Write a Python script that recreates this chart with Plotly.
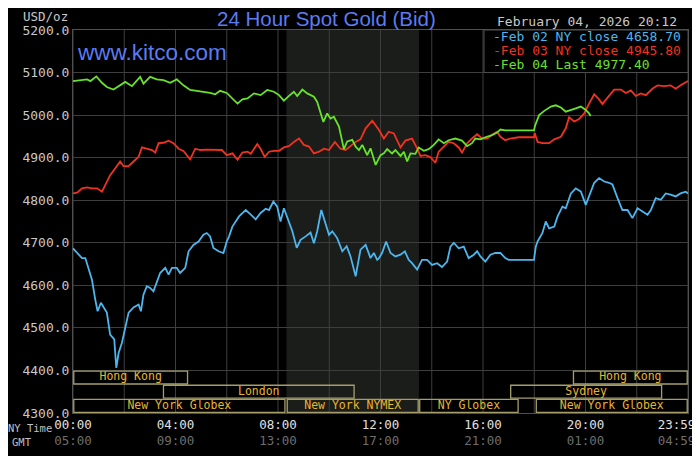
import plotly.graph_objects as go

# hours after midnight NY time, spot bid in USD/oz
feb02_hours = [0.00, 0.16, 0.35, 0.48, 0.61, 0.74, 0.87, 0.96, 1.09, 1.19, 1.32, 1.45, 1.61, 1.69,
               1.78, 1.91, 2.04, 2.17, 2.36, 2.56, 2.65, 2.75, 2.88, 3.01, 3.14, 3.27, 3.40, 3.60,
               3.73, 3.86, 4.05, 4.18, 4.38, 4.51, 4.70, 4.90, 5.09, 5.22, 5.35, 5.48, 5.68, 5.87,
               6.00, 6.09, 6.22, 6.48, 6.74, 6.94, 7.13, 7.32, 7.52, 7.65, 7.82, 7.97, 8.10, 8.23,
               8.43, 8.56, 8.73, 8.88, 9.08, 9.27, 9.40, 9.53, 9.69, 9.86, 9.99, 10.12, 10.31,
               10.51, 10.68, 10.83, 11.03, 11.22, 11.42, 11.61, 11.74, 11.87, 11.94, 12.06, 12.22,
               12.39, 12.58, 12.78, 12.95, 13.10, 13.23, 13.43, 13.62, 13.82, 14.01, 14.21, 14.40,
               14.60, 14.73, 14.86, 15.05, 15.25, 15.44, 15.64, 15.77, 15.90, 16.09, 16.29, 16.48,
               16.68, 16.87, 17.00, 17.99, 18.06, 18.13, 18.32, 18.45, 18.58, 18.78, 18.91, 19.10,
               19.23, 19.43, 19.62, 19.82, 20.01, 20.14, 20.34, 20.53, 20.73, 20.92, 21.05, 21.25,
               21.44, 21.64, 21.83, 22.03, 22.22, 22.42, 22.55, 22.74, 22.94, 23.13, 23.32, 23.52,
               23.71, 23.91, 24.00]
feb02_price = [4687, 4676, 4664, 4664, 4637, 4613, 4566, 4539, 4559, 4548, 4536, 4484, 4473, 4406,
               4441, 4465, 4504, 4536, 4548, 4555, 4539, 4578, 4598, 4594, 4586, 4609, 4629, 4641,
               4625, 4641, 4641, 4629, 4641, 4680, 4695, 4703, 4719, 4723, 4715, 4688, 4680, 4676,
               4703, 4715, 4738, 4762, 4777, 4766, 4755, 4770, 4780, 4777, 4797, 4785, 4750, 4781,
               4746, 4727, 4688, 4707, 4715, 4724, 4699, 4727, 4777, 4742, 4719, 4727, 4711,
               4680, 4692, 4668, 4621, 4684, 4695, 4664, 4676, 4660, 4664, 4676, 4703,
               4676, 4668, 4672, 4680, 4660, 4652, 4637, 4660, 4660, 4648, 4652, 4643,
               4656, 4691, 4700, 4687, 4691, 4664, 4672, 4680, 4668, 4656, 4672, 4676,
               4676, 4664, 4660, 4660, 4691, 4703, 4723, 4750, 4734, 4738, 4762, 4785,
               4781, 4816, 4828, 4820, 4789, 4809, 4841, 4852, 4844, 4841, 4837, 4805,
               4777, 4777, 4758, 4781, 4773, 4766, 4777, 4805, 4801, 4816, 4813, 4809,
               4816, 4820, 4816]

feb03_hours = [0.00, 0.16, 0.35, 0.55, 0.74, 0.94, 1.13, 1.26, 1.45, 1.65, 1.84, 1.97, 2.17, 2.36,
               2.56, 2.69, 2.88, 3.08, 3.21, 3.34, 3.53, 3.73, 3.92, 4.12, 4.31, 4.57, 4.77, 4.96,
               5.22, 5.48, 5.81, 6.00, 6.22, 6.42, 6.61, 6.81, 6.94, 7.19, 7.32, 7.48, 7.65, 7.84,
               8.04, 8.23, 8.43, 8.62, 8.82, 9.01, 9.21, 9.40, 9.60, 9.79, 9.99, 10.22, 10.44,
               10.64, 10.83, 11.03, 11.22, 11.42, 11.68, 11.94, 12.13, 12.32, 12.52, 12.65, 12.78,
               12.97, 13.23, 13.43, 13.56, 13.75, 13.95, 14.14, 14.27, 14.47, 14.66, 14.86, 15.05,
               15.18, 15.38, 15.57, 15.77, 15.96, 16.16, 16.35, 16.55, 16.68, 16.87, 17.06, 17.39,
               17.99, 18.02, 18.13, 18.32, 18.58, 18.78, 19.04, 19.23, 19.36, 19.56, 19.75, 19.95,
               20.14, 20.34, 20.53, 20.66, 20.86, 21.12, 21.38, 21.57, 21.77, 21.96, 22.16, 22.35,
               22.61, 22.81, 23.06, 23.32, 23.52, 23.71, 24.00]
feb03_price = [4816, 4818, 4828, 4830, 4828, 4828, 4820, 4836, 4859, 4875, 4891, 4880, 4880, 4891,
               4902, 4924, 4921, 4918, 4912, 4934, 4935, 4940, 4934, 4921, 4916, 4896, 4921, 4918,
               4919, 4919, 4918, 4906, 4910, 4895, 4912, 4914, 4909, 4932, 4921, 4902, 4914, 4916,
               4916, 4924, 4927, 4937, 4945, 4930, 4926, 4910, 4914, 4921, 4918, 4937, 4921,
               4918, 4927, 4937, 4943, 4969, 4987, 4965, 4945, 4961, 4957, 4941, 4924,
               4940, 4945, 4922, 4904, 4906, 4901, 4888, 4914, 4926, 4937, 4934, 4924,
               4912, 4934, 4945, 4955, 4945, 4945, 4953, 4961, 4949, 4941, 4945, 4948,
               4948, 4958, 4937, 4934, 4934, 4943, 4949, 4969, 4995, 4985, 4991, 5004,
               5027, 5049, 5037, 5026, 5041, 5060, 5060, 5052, 5058, 5045, 5051, 5047,
               5062, 5070, 5068, 5070, 5062, 5070, 5080]

feb04_hours = [0.00, 0.29, 0.55, 0.68, 0.91, 1.13, 1.32, 1.58, 1.84, 2.04, 2.30, 2.49, 2.62, 2.75,
               3.01, 3.27, 3.53, 3.79, 4.05, 4.31, 4.57, 4.83, 5.09, 5.35, 5.55, 5.74, 6.00, 6.16,
               6.42, 6.61, 6.81, 7.06, 7.32, 7.58, 7.84, 8.04, 8.23, 8.43, 8.62, 8.75, 8.95, 9.14,
               9.40, 9.53, 9.66, 9.77, 9.92, 10.05, 10.18, 10.38, 10.57, 10.70, 10.90, 11.03,
               11.16, 11.29, 11.48, 11.61, 11.81, 12.00, 12.13, 12.26, 12.45, 12.58, 12.78, 12.91,
               13.04, 13.17, 13.36, 13.49, 13.69, 13.88, 14.08, 14.27, 14.47, 14.66, 14.92, 15.18,
               15.38, 15.57, 15.70, 15.90, 16.09, 16.35, 16.55, 16.68, 16.87, 17.13, 17.52, 17.99,
               18.03, 18.10, 18.19, 18.39, 18.65, 18.84, 19.04, 19.23, 19.43, 19.62, 19.82, 20.01,
               20.14, 20.20]
feb04_price = [5080, 5082, 5084, 5080, 5091, 5076, 5066, 5060, 5070, 5078, 5068, 5080, 5090, 5074,
               5090, 5084, 5082, 5076, 5084, 5070, 5059, 5057, 5055, 5052, 5049, 5057, 5052, 5043,
               5027, 5037, 5039, 5051, 5047, 5059, 5055, 5047, 5034, 5045, 5055, 5045, 5060, 5051,
               5043, 5031, 5004, 4984, 5004, 4992, 4996, 4973, 4920, 4938, 4942, 4926,
               4918, 4930, 4906, 4922, 4883, 4906, 4910, 4920, 4910, 4918, 4904, 4914,
               4891, 4910, 4909, 4924, 4916, 4920, 4930, 4943, 4934, 4941, 4945, 4940,
               4927, 4934, 4945, 4943, 4948, 4953, 4959, 4966, 4964, 4964, 4964, 4964,
               4975, 4988, 5000, 5010, 5020, 5023, 5018, 5008, 5013, 5016, 5020, 5012,
               5004, 4998]

legend_texts = ["-Feb 02 NY close 4658.70", "-Feb 03 NY close 4945.80", "-Feb 04 Last 4977.40"]
stamp = "February 04, 2026 20:12"

# trading sessions strip at the bottom (row 0 = top row)
session_names = ["Hong Kong", "Hong Kong", "London", "Sydney",
                 "New York Globex", "New York NYMEX", "NY Globex", "New York Globex"]
session_start = [0, 19.5, 3.5, 17.05, 0, 8.33, 13.5, 18.05]
session_end = [4.5, 24, 11, 23, 8.3, 13.5, 17.4, 24]
session_row = [0, 0, 1, 1, 2, 2, 2, 2]

ny_ticks = ["00:00", "04:00", "08:00", "12:00", "16:00", "20:00", "23:59"]
gmt_ticks = ["05:00", "09:00", "13:00", "17:00", "21:00", "01:00", "04:59"]

BLUE = "#4cb6ee"
RED = "#f2321e"
GREEN = "#68e22c"
GRID = "#3e3e3e"
MONO = "DejaVu Sans Mono"

fig = go.Figure()
for hrs, px, col in [(feb02_hours, feb02_price, BLUE),
                     (feb03_hours, feb03_price, RED),
                     (feb04_hours, feb04_price, GREEN)]:
    fig.add_trace(go.Scatter(x=hrs, y=px, mode="lines", line=dict(color=col, width=1.8),
                             showlegend=False, hoverinfo="skip"))

shapes = []
# NYMEX floor hours shading
shapes.append(dict(type="rect", xref="x", yref="y", x0=8.33, x1=13.5, y0=4300, y1=5200,
                   fillcolor="#1a1d1a", line_width=0, layer="below"))
for h in range(0, 25, 2):
    shapes.append(dict(type="line", xref="x", yref="y", x0=h, x1=h, y0=4300, y1=5200,
                       line=dict(color=GRID, width=1), layer="below"))

row_h = 100 / 3
lab_x, lab_y = [], []
for name, a, b, r in zip(session_names, session_start, session_end, session_row):
    top = 4400 - r * row_h
    shapes.append(dict(type="rect", xref="x", yref="y", x0=a + 0.03, x1=b - 0.03,
                       y0=top - row_h + 1.5, y1=top - 1.5,
                       line=dict(color="#a59e68", width=1.3), fillcolor="rgba(0,0,0,0)"))
    lab_x.append((a + b) / 2)
    lab_y.append(top - row_h / 2)

fig.add_trace(go.Scatter(x=lab_x, y=lab_y, text=session_names, mode="text",
                         textfont=dict(family=MONO, size=11.5, color="#e6b632"),
                         showlegend=False, hoverinfo="skip"))

# legend box in the top right corner
shapes.append(dict(type="rect", xref="x", yref="y", x0=16.04, x1=24, y0=5100, y1=5200,
                   fillcolor="black", line=dict(color="#505050", width=1), layer="above"))

annotations = []
for i, (t, col) in enumerate(zip(legend_texts, [BLUE, RED, GREEN])):
    annotations.append(dict(x=16.3, y=5184 - i * 33, xref="x", yref="y", text=t,
                            showarrow=False, xanchor="left", yanchor="middle",
                            font=dict(family=MONO, size=13, color=col)))

annotations += [
    dict(x=0.413, y=1.029, xref="paper", yref="paper", text="24 Hour Spot Gold (Bid)",
         showarrow=False, xanchor="center", yanchor="middle",
         font=dict(family="Liberation Sans", size=20.5, color="#5a7cf0")),
    dict(x=0.08, y=5147, xref="x", yref="y", text="www.kitco.com", showarrow=False,
         xanchor="left", yanchor="middle",
         font=dict(family="Liberation Sans", size=22.5, color="#5a7cf0")),
    dict(x=0.836, y=1.021, xref="paper", yref="paper", text=stamp, showarrow=False,
         xanchor="center", yanchor="middle", font=dict(family=MONO, size=13, color="#c8c8c8")),
    dict(x=-0.045, y=1.036, xref="paper", yref="paper", text="USD/oz", showarrow=False,
         xanchor="center", yanchor="middle", font=dict(family=MONO, size=12.5, color="#c8c8c8")),
    dict(x=-0.07, y=-0.04, xref="paper", yref="paper", text="NY Time", showarrow=False,
         xanchor="center", yanchor="middle", font=dict(family=MONO, size=10.5, color="#c0c0c0")),
    dict(x=-0.083, y=-0.076, xref="paper", yref="paper", text="GMT", showarrow=False,
         xanchor="center", yanchor="middle", font=dict(family=MONO, size=10.5, color="#c0c0c0")),
]

tick_text = [f"{a}<br><span style='color:#6e6e6e'>{b}</span>" for a, b in zip(ny_ticks, gmt_ticks)]

# the page body adds an 8px offset, so the figure is 8px smaller than the window
fig.update_layout(
    width=692, height=448,
    margin=dict(l=65, r=12, t=22, b=43),
    paper_bgcolor="black", plot_bgcolor="black",
    shapes=shapes, annotations=annotations,
    xaxis=dict(range=[0, 24], showgrid=False, zeroline=False, automargin=False,
               tickmode="array", tickvals=[0, 4, 8, 12, 16, 20, 23.55], ticktext=tick_text,
               tickfont=dict(family=MONO, size=12.5, color="#e0e0e0"),
               showline=True, linecolor="#505050", mirror=True, ticks=""),
    yaxis=dict(range=[4300, 5200], tickmode="linear", tick0=4300, dtick=100,
               tickformat=".1f", showgrid=True, gridcolor=GRID, zeroline=False, automargin=False,
               tickfont=dict(family=MONO, size=13, color="#c8c8c8"),
               showline=True, linecolor="#505050", mirror=True, ticks=""),
)

fig.write_html("out.html")
